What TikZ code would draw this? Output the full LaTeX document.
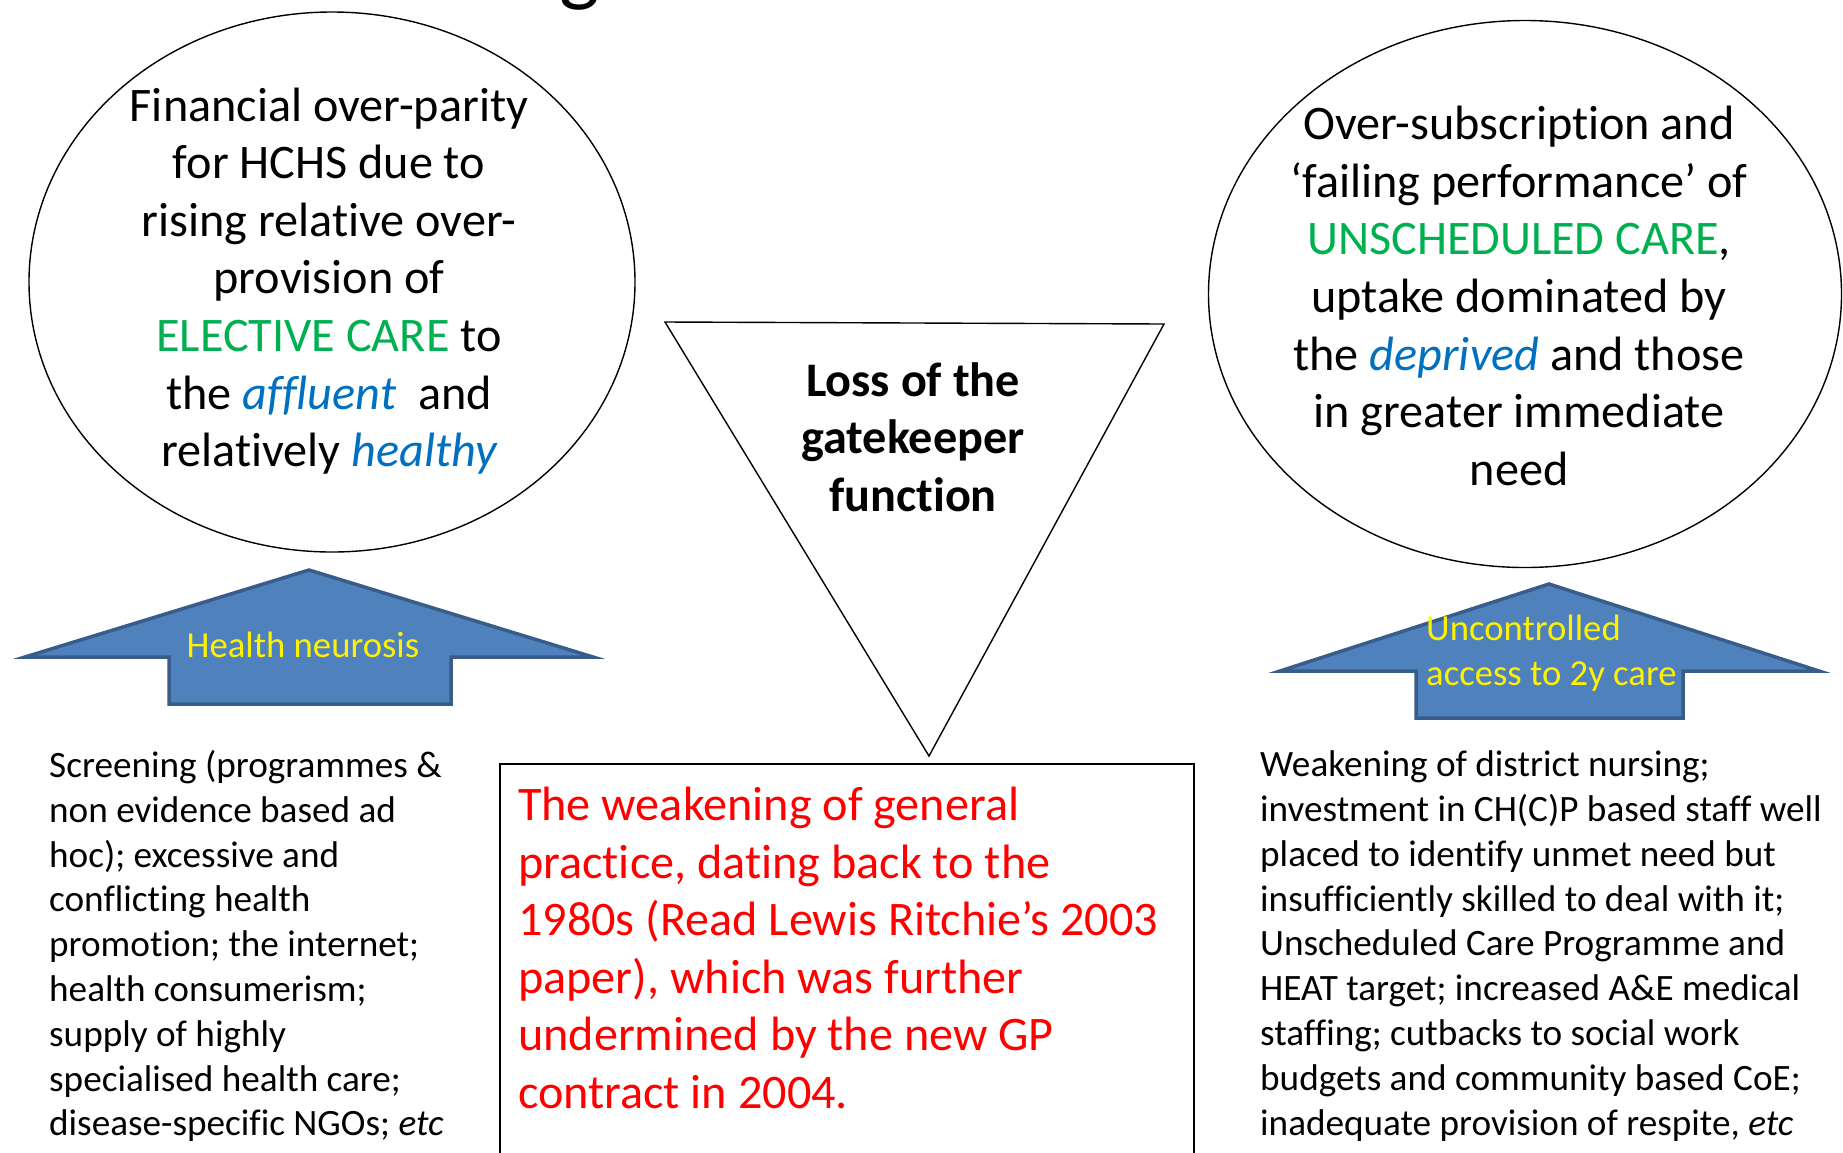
\documentclass[tikz,border=0pt]{standalone}
\usepackage{fontspec}
\setmainfont[Ligatures=NoCommon]{Carlito}
\usetikzlibrary{shapes.geometric}

\definecolor{caregreen}{HTML}{00B050}
\definecolor{groupblue}{HTML}{0070C0}
\definecolor{arrowfill}{HTML}{4F81BD}
\definecolor{arrowedge}{HTML}{385D8A}

\newcommand{\caretype}[1]{\textcolor{caregreen}{#1}}
\newcommand{\patgroup}[1]{\textcolor{groupblue}{\itshape #1}}

\begin{document}
\begin{tikzpicture}[x=1pt, y=-1pt,
  bubble/.style={draw, ellipse, line width=1.4pt, inner sep=0pt},
  bigtext/.style={align=center, inner sep=0pt, font={\fontsize{48.2}{57.6}\selectfont}},
  smalltext/.style={align=left, inner sep=0pt, font={\fontsize{37.2}{44.8}\selectfont}},
  uparrow/.style={fill=arrowfill, draw=arrowedge, line width=3.5pt, line join=miter},
  arrowtext/.style={text=yellow, inner sep=0pt, font={\fontsize{36.7}{44.8}\selectfont}}]
\clip (0,0) rectangle (1843,1152);
\fill[white] (0,0) rectangle (1843,1152);

% tail of the cut-off title
\node[anchor=base, inner sep=0pt, font={\fontsize{86}{100}\selectfont}] (TitleTail) at (580,-5) {g};

% the two bubbles
\node[bubble, minimum width=606pt, minimum height=540pt] (Elective) at (332,282) {};
\node[bigtext] (ElectiveText) at (329,281) {Financial over-parity\\ for HCHS due to\\ rising relative over-\\ provision of\\ \caretype{ELECTIVE CARE} to\\ the \patgroup{affluent}\ \ and\\ relatively \patgroup{healthy}};

\node[bubble, minimum width=633pt, minimum height=547pt] (Unscheduled) at (1525,294) {};
\node[bigtext] (UnscheduledText) at (1519,296) {Over-subscription and\\ ‘failing performance’ of\\ \caretype{UNSCHEDULED CARE},\\ uptake dominated by\\ the \patgroup{deprived} and those\\ in greater immediate\\ need};

% the funnel
\coordinate (FunnelL) at (665,322);
\coordinate (FunnelR) at (1164,324);
\coordinate (FunnelTip) at (929,756);
\draw[line width=1.4pt, line join=miter] (FunnelL) -- (FunnelR) -- (FunnelTip) -- cycle;
\node[bigtext, font={\fontsize{48.2}{57.6}\selectfont\bfseries}] (Gatekeeper) at (913,437) {Loss of the\\ gatekeeper\\ function};

% block arrows
\draw[uparrow] (25,657) -- (309,570) -- (593,657) -- (451,657) -- (451,704) -- (169,704) -- (169,657) -- cycle;
\node[arrowtext] (Neurosis) at (303,645) {Health neurosis};

\draw[uparrow] (1280,671) -- (1549,584) -- (1819,671) -- (1683,671) -- (1683,718) -- (1416,718) -- (1416,671) -- cycle;
\node[arrowtext, align=left, anchor=west] (Access) at (1426,653) {Uncontrolled\\ access to 2y care};

% general practice box
\draw[line width=1.4pt] (500,764) rectangle (1194,1170);
\node[bigtext, align=left, anchor=west, text=red] (GenPractice) at (518,948) {The weakening of general\\ practice, dating back to the\\ 1980s (Read Lewis Ritchie’s 2003\\ paper), which was further\\ undermined by the new GP\\ contract in 2004.};

% causes under each arrow
\node[smalltext, anchor=west] (Screening) at (49,946) {Screening (programmes \&\\ non evidence based ad\\ hoc); excessive and\\ conflicting health\\ promotion; the internet;\\ health consumerism;\\ supply of highly\\ specialised health care;\\ disease-specific NGOs; \textit{etc}};
\node[smalltext, anchor=west] (Nursing) at (1260,946) {Weakening of district nursing;\\ investment in CH(C)P based staff well\\ placed to identify unmet need but\\ insufficiently skilled to deal with it;\\ Unscheduled Care Programme and\\ HEAT target; increased A\&E medical\\ staffing; cutbacks to social work\\ budgets and community based CoE;\\ inadequate provision of respite, \textit{etc}};
\end{tikzpicture}
\end{document}
